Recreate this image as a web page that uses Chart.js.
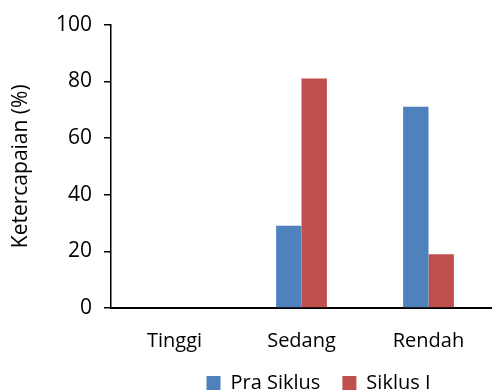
<!DOCTYPE html>
<html>
<head>
<meta charset="utf-8">
<script src="https://cdn.jsdelivr.net/npm/chart.js@4"></script>
<style>
  html, body { margin: 0; padding: 0; background: #fff; }
  #wrap { width: 492px; height: 390px; }
</style>
</head>
<body>
<div id="wrap"><canvas id="chart"></canvas></div>
<script>
// data
const categories = ['Tinggi', 'Sedang', 'Rendah'];
const praSiklus = [0, 29, 71];
const siklusI = [0, 81, 19];
const yTicks = [0, 20, 40, 60, 80, 100];

const FONT = "'Open Sans', sans-serif";
const LEGEND_PAD = 22;

// move the legend down/right to where the reference has it
const legendShift = {
    id: 'legendShift',
    afterLayout(chart) {
        const lg = chart.legend;
        if (!lg) return;
        const h = lg.bottom - lg.top;
        lg.top = 383 - LEGEND_PAD - 10;
        lg.bottom = lg.top + h;
        lg.left += 17;
        lg.right += 17;
    }
};

new Chart(document.getElementById('chart'), {
    type: 'bar',
    data: {
        labels: categories,
        datasets: [
            { label: 'Pra Siklus', data: praSiklus, backgroundColor: '#4F81BD' },
            { label: 'Siklus I', data: siklusI, backgroundColor: '#C0504D' }
        ]
    },
    options: {
        responsive: true,
        maintainAspectRatio: false,
        animation: false,
        datasets: { bar: { barPercentage: 1, categoryPercentage: 0.4 } },
        layout: { padding: { top: 13, right: 0, left: 0, bottom: -20 } },
        scales: {
            x: {
                afterFit: (s) => { s.height = 50; },
                grid: { display: false, drawTicks: false },
                border: { color: '#000', width: 2 },
                ticks: { color: '#000', font: { family: FONT, size: 20 }, padding: 21 }
            },
            y: {
                min: 0, max: 100,
                afterBuildTicks: (s) => { s.ticks = yTicks.map(v => ({ value: v })); },
                afterFit: (s) => { s.width = 111; },
                grid: { display: true, drawOnChartArea: false, drawTicks: true, tickLength: 7, tickColor: '#000', lineWidth: 1.5 },
                border: { color: '#000', width: 1.5 },
                ticks: { color: '#000', font: { family: FONT, size: 21 }, padding: 12 },
                title: {
                    display: true, text: 'Ketercapaian (%)', color: '#000',
                    font: { family: FONT, size: 21 }, padding: { top: 8, bottom: 0 }
                }
            }
        },
        plugins: {
            legend: {
                position: 'bottom',
                fullSize: false,
                labels: {
                    color: '#000', font: { family: FONT, size: 20 },
                    boxWidth: 14, boxHeight: 14, padding: LEGEND_PAD
                }
            },
            tooltip: { enabled: false }
        }
    },
    plugins: [legendShift]
});
</script>
</body>
</html>
